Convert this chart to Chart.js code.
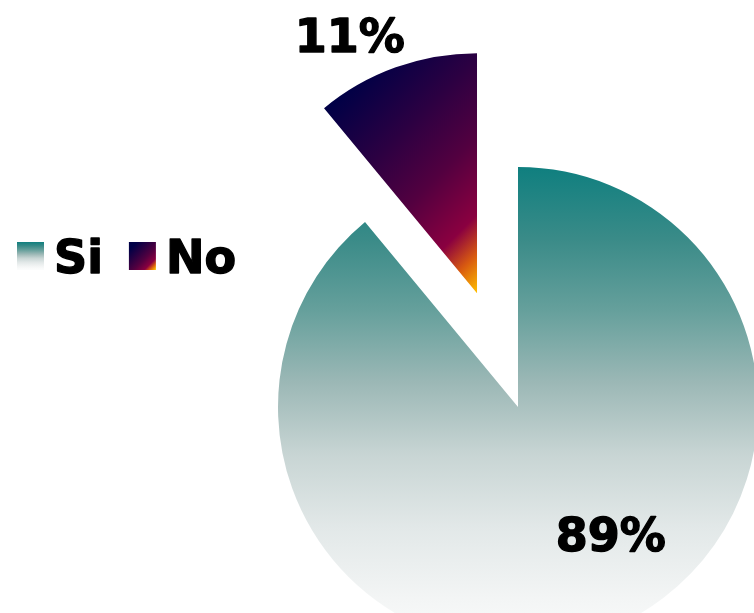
<!DOCTYPE html>
<html>
<head>
<meta charset="utf-8">
<title>Si / No</title>
<script src="https://cdn.jsdelivr.net/npm/chart.js@4.4.1/dist/chart.umd.min.js"></script>
<style>
  html, body { margin: 0; padding: 0; background: #fff; }
  #box { width: 754px; height: 613px; overflow: hidden; }
</style>
</head>
<body>
<div id="box"><canvas id="myChart" width="754" height="613"></canvas></div>
<script>
const labels = ["Si", "No"];
const values = [89, 11];
const explode = [0, 121];   // how far each slice is pulled out, px

const pieRadius = 240;
const fontLabel = 'bold 46px "DejaVu Sans"';

// gradient stops
const siStops = [[0, "#0f7f7f"], [0.15, "#3a8b88"], [0.3, "#66a09c"], [0.45, "#9cb8b6"],
                 [0.6, "#c8d5d4"], [0.75, "#e2e8e8"], [0.9, "#f3f5f5"], [1, "#fbfcfc"]];
const noStops = [[0, "#000046"], [0.15, "#000046"], [0.4, "#2c0042"], [0.6, "#520040"],
                 [0.8, "#8a0040"], [0.9, "#d85a10"], [1, "#ffc000"]];

function addStops(grad, stops) {
  stops.forEach(s => grad.addColorStop(s[0], s[1]));
  return grad;
}

// where slice i sits after being pulled out
function sliceGeometry(chart, i) {
  const area = chart.chartArea;
  const cx = (area.left + area.right) / 2;
  const cy = (area.top + area.bottom) / 2;
  const total = values.reduce((a, b) => a + b, 0);
  let start = -Math.PI / 2;
  for (let k = 0; k < i; k++) start += values[k] / total * Math.PI * 2;
  const end = start + values[i] / total * Math.PI * 2;
  const mid = (start + end) / 2;
  return {
    x: cx + Math.cos(mid) * explode[i],
    y: cy + Math.sin(mid) * explode[i],
    start, end, mid
  };
}

function sliceFill(context) {
  const chart = context.chart;
  if (!chart.chartArea) return "#888";
  const i = context.dataIndex;
  const g = sliceGeometry(chart, i);
  const ctx = chart.ctx;
  if (i === 0) {
    return addStops(ctx.createLinearGradient(0, g.y - pieRadius, 0, g.y + pieRadius), siStops);
  }
  // bounding box of the sector, then a 45 degree gradient across it
  let xs = [g.x], ys = [g.y];
  for (let s = 0; s <= 20; s++) {
    const a = g.start + (g.end - g.start) * s / 20;
    xs.push(g.x + Math.cos(a) * pieRadius);
    ys.push(g.y + Math.sin(a) * pieRadius);
  }
  const left = Math.min(...xs), top = Math.min(...ys);
  const w = Math.max(...xs) - left, h = Math.max(...ys) - top;
  const d = (w + h) / 2;
  return addStops(ctx.createLinearGradient(left, top, left + d, top + d), noStops);
}

// pull slices out by moving the arc elements while they are drawn
const explodePlugin = {
  id: "explode",
  beforeDatasetsDraw(chart) {
    chart.getDatasetMeta(0).data.forEach((arc, i) => {
      const mid = (arc.startAngle + arc.endAngle) / 2;
      arc.x += Math.cos(mid) * explode[i];
      arc.y += Math.sin(mid) * explode[i];
    });
  },
  afterDatasetsDraw(chart) {
    chart.getDatasetMeta(0).data.forEach((arc, i) => {
      const mid = (arc.startAngle + arc.endAngle) / 2;
      arc.x -= Math.cos(mid) * explode[i];
      arc.y -= Math.sin(mid) * explode[i];
    });
  }
};

// bold text, a bit heavier than the font gives
function heavyText(ctx, txt, x, y) {
  ctx.fillText(txt, x, y);
  ctx.strokeText(txt, x, y);
}

const percentLabels = {
  id: "percentLabels",
  afterDraw(chart, args, opts) {
    const ctx = chart.ctx;
    const total = values.reduce((a, b) => a + b, 0);
    ctx.save();
    ctx.font = fontLabel;
    ctx.fillStyle = "#000";
    ctx.strokeStyle = "#000";
    ctx.lineWidth = 1.4;
    ctx.lineJoin = "round";
    ctx.textAlign = "center";
    ctx.textBaseline = "alphabetic";
    values.forEach((v, i) => {
      const g = sliceGeometry(chart, i);
      const p = opts.place[i];
      const a = g.mid + p.turn * Math.PI / 180;
      const x = g.x + Math.cos(a) * pieRadius * p.radius;
      const y = g.y + Math.sin(a) * pieRadius * p.radius;
      heavyText(ctx, Math.round(v / total * 100) + "%", x, y + 16.8);
    });
    ctx.restore();
  }
};

const sideLegend = {
  id: "sideLegend",
  afterDraw(chart, args, opts) {
    const ctx = chart.ctx;
    ctx.save();
    ctx.font = fontLabel;
    ctx.textBaseline = "alphabetic";
    ctx.strokeStyle = "#000";
    ctx.lineWidth = 1.4;
    ctx.lineJoin = "round";
    let x = opts.left;
    labels.forEach((lab, i) => {
      const sw = opts.box;
      let grad;
      if (i === 0) {
        grad = addStops(ctx.createLinearGradient(0, opts.top, 0, opts.top + sw), siStops);
      } else {
        grad = addStops(ctx.createLinearGradient(x, opts.top, x + sw, opts.top + sw), noStops);
      }
      ctx.fillStyle = grad;
      ctx.fillRect(x, opts.top, sw, sw + 1);
      x += sw + 10;
      ctx.fillStyle = "#000";
      heavyText(ctx, lab, x, opts.baseline);
      x += ctx.measureText(lab).width + 26;
    });
    ctx.restore();
  }
};

const config = {
  type: "pie",
  data: {
    labels: labels,
    datasets: [
      {
        data: values,
        backgroundColor: sliceFill,
        borderWidth: 0,
        radius: pieRadius
      }
    ]
  },
  options: {
    responsive: false,
    animation: false,
    events: [],
    layout: { padding: { left: 282, top: 201, right: 0, bottom: 0 } },
    plugins: {
      legend: { display: false },
      tooltip: { enabled: false },
      percentLabels: { place: [{ radius: 0.655, turn: -16.4 }, { radius: 1.2, turn: -6.4 }] },
      sideLegend: { left: 17, top: 242, box: 27, baseline: 273 }
    }
  },
  plugins: [explodePlugin, percentLabels, sideLegend]
};

const myChart = new Chart(document.getElementById("myChart"), config);
</script>
</body>
</html>
